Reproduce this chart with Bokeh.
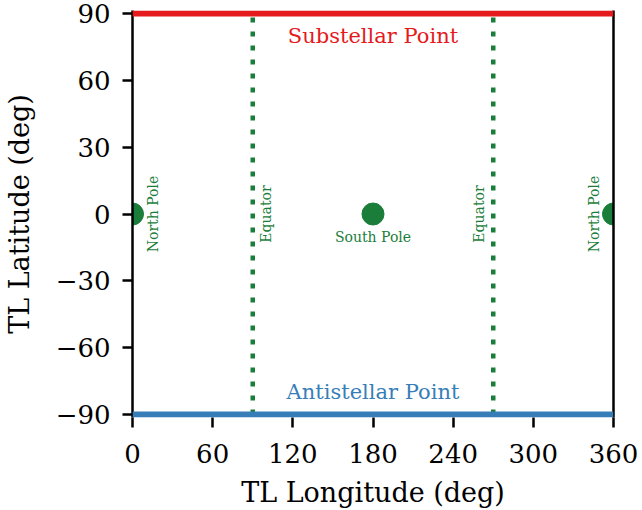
import numpy as np
from bokeh.plotting import figure
from bokeh.models import FixedTicker, LinearAxis, Range1d, Span
from bokeh.core.properties import value
from bokeh.embed import file_html
from bokeh.resources import INLINE

# data
x_ticks = [0, 60, 120, 180, 240, 300, 360]
y_ticks = [-90, -60, -30, 0, 30, 60, 90]
substellar_lat = 90
antistellar_lat = -90
equator_lons = [90, 270]
pole_lons = [0, 180, 360]
pole_lats = [0, 0, 0]

RED = "#e41a1c"
BLUE = "#377eb8"
GREEN = "#1a7e3a"
FONT = "DejaVu Serif"

# small padding so the thick boundary lines are not clipped by the frame
pad = 1.35
W, H = 642, 510
p = figure(width=W, height=H, output_backend="svg", toolbar_location=None,
           x_range=Range1d(0, 360), y_range=Range1d(-90 - pad, 90 + pad),
           x_axis_location=None,
           min_border_left=132, min_border_right=W - 613, min_border_top=10,
           min_border_bottom=H - 417)
p.grid.visible = False
p.outline_line_color = None
p.background_fill_color = "white"

xax = LinearAxis(ticker=FixedTicker(ticks=x_ticks), axis_label="TL Longitude (deg)")
p.add_layout(xax, "below")

for ax in (xax, p.yaxis[0]):
    ax.major_label_text_font = FONT
    ax.major_label_text_font_size = "26px"
    ax.major_label_text_color = "black"
    ax.axis_label_text_font = FONT
    ax.axis_label_text_font_size = "27px"
    ax.axis_label_text_font_style = "normal"
    ax.axis_label_text_color = "black"
    ax.major_tick_out = 10
    ax.major_tick_in = 0
    ax.minor_tick_line_color = None
    ax.major_tick_line_width = 2.5
    ax.axis_line_width = 2.5
    ax.major_tick_line_color = "black"
    ax.axis_line_color = "black"

p.yaxis[0].ticker = FixedTicker(ticks=y_ticks)
p.yaxis[0].axis_label = "TL Latitude (deg)"
xax.axis_line_color = None
xax.major_label_standoff = 16
p.yaxis[0].major_label_standoff = 12
xax.axis_label_standoff = 11
p.yaxis[0].axis_label_standoff = 18

right = LinearAxis(ticker=FixedTicker(ticks=[]), axis_line_width=2.5, axis_line_color="black",
                   major_label_text_font_size="0px", major_tick_line_color=None,
                   minor_tick_line_color=None)
p.add_layout(right, "right")

# equator dotted lines
for lon in equator_lons:
    p.line([lon, lon], [-90, 90], line_color=GREEN, line_width=4.5, line_dash="5 9")

# poles
p.scatter(pole_lons, pole_lats, size=22, color=GREEN)

# substellar/antistellar lines
p.add_layout(Span(location=substellar_lat, dimension="width", line_color=RED, line_width=6))
p.add_layout(Span(location=antistellar_lat, dimension="width", line_color=BLUE, line_width=6))

# labels
p.text(x=[180], y=[80], text=["Substellar Point"], text_color=RED, text_font=value(FONT),
       text_font_size="21px", text_align="center", text_baseline="middle")
p.text(x=[180], y=[-80], text=["Antistellar Point"], text_color=BLUE, text_font=value(FONT),
       text_font_size="21px", text_align="center", text_baseline="middle")
p.text(x=[180], y=[0], text=["South Pole"], text_color=GREEN, text_font=value(FONT),
       text_font_size="14px", text_align="center", text_baseline="middle", y_offset=23)
p.text(x=[pole_lons[0]], y=[0], text=["North Pole"], text_color=GREEN, text_font=value(FONT),
       text_font_size="14px", text_align="center", text_baseline="middle", angle=np.pi/2, x_offset=20)
p.text(x=[pole_lons[2]], y=[0], text=["North Pole"], text_color=GREEN, text_font=value(FONT),
       text_font_size="14px", text_align="center", text_baseline="middle", angle=np.pi/2, x_offset=-20)
p.text(x=[equator_lons[0]], y=[0], text=["Equator"], text_color=GREEN, text_font=value(FONT),
       text_font_size="14px", text_align="center", text_baseline="middle", angle=np.pi/2, x_offset=13)
p.text(x=[equator_lons[1]], y=[0], text=["Equator"], text_color=GREEN, text_font=value(FONT),
       text_font_size="14px", text_align="center", text_baseline="middle", angle=np.pi/2, x_offset=-14)

open("out.html", "w").write(file_html(p, INLINE))
